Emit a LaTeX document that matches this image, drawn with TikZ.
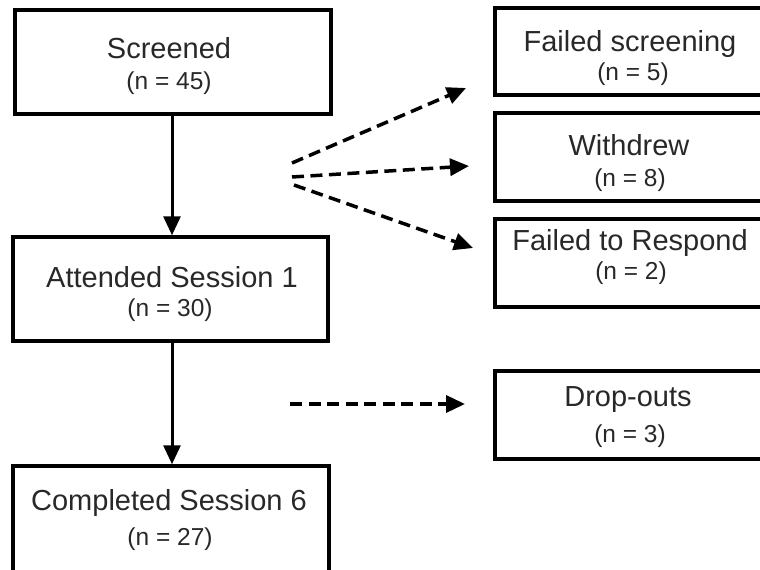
\documentclass[tikz,border=0pt]{standalone}
\usepackage{fontspec}
\setmainfont{Liberation Sans}
\usetikzlibrary{arrows.meta}
\definecolor{txt}{RGB}{40,40,40}
\begin{document}
\begin{tikzpicture}[x=1pt,y=-1pt,
  box/.style={draw=black,line width=3.5pt,inner sep=0pt},
  main/.style={text=txt,font=\fontsize{29}{32}\selectfont,anchor=center,inner sep=0pt},
  sub/.style={text=txt,font=\fontsize{24.5}{28}\selectfont,anchor=center,inner sep=0pt},
  solidarrow/.style={line width=3pt,-{Triangle[length=19pt,width=17pt]}},
  dasharrow/.style={line width=3.5pt,dash pattern=on 12pt off 6.5pt,-{Triangle[length=19pt,width=17pt]}}]
\useasboundingbox (0,0) rectangle (760,570);
\clip (0,0) rectangle (760,570);
\fill[white] (0,0) rectangle (760,570);
% left boxes
\node[box,minimum width=316pt,minimum height=104pt] (scr) at (173,62) {};
\node[box,minimum width=315pt,minimum height=104pt] (att) at (170.5,289) {};
\node[box,minimum width=316pt,minimum height=112pt] (com) at (171,522) {};
% right boxes
\node[box,minimum width=272pt,minimum height=87pt] (fs) at (631,51.5) {};
\node[box,minimum width=272pt,minimum height=88pt] (wd) at (631,157) {};
\node[box,minimum width=272pt,minimum height=88pt] (fr) at (631,263) {};
\node[box,minimum width=272pt,minimum height=88pt] (do) at (631,415) {};
% texts
\node[main] (scrt) at (169,48) {Screened};
\node[sub] (scrn) at (169,83) {(n = 45)};
\node[main] (attt) at (172,277) {Attended Session 1};
\node[sub] (attn) at (170,310) {(n = 30)};
\node[main] (comt) at (169,503) {Completed Session 6};
\node[sub] (comn) at (170,539) {(n = 27)};
\node[main] (fst) at (630,44) {Failed screening};
\node[sub] (fsn) at (633,74) {(n = 5)};
\node[main] (wdt) at (629,145) {Withdrew};
\node[sub] (wdn) at (630,180) {(n = 8)};
\node[main] (frt) at (630,243) {Failed to Respond};
\node[sub] (frn) at (631,273) {(n = 2)};
\node[main] (dot) at (628,400) {Drop-outs};
\node[sub] (don) at (630,436) {(n = 3)};
% solid arrows
\draw[solidarrow] (scr.south -| 172,0) -- (att.north -| 172,0);
\draw[solidarrow] (att.south -| 172,0) -- (com.north -| 172,0);
% dashed arrows
\coordinate (s1) at (292,163);
\coordinate (e1) at (466,88);
\coordinate (s2) at (292,177);
\coordinate (e2) at (469,166);
\coordinate (s3) at (294,185);
\coordinate (e3) at (473,248);
\coordinate (s4) at (290,404);
\coordinate (e4) at (465,404);
\draw[dasharrow] (s1) -- (e1);
\draw[dasharrow] (s2) -- (e2);
\draw[dasharrow] (s3) -- (e3);
\draw[dasharrow] (s4) -- (e4);
\end{tikzpicture}
\end{document}
